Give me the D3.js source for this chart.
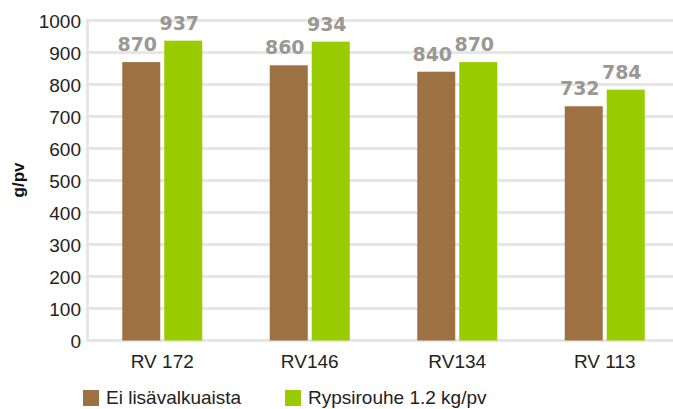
<!DOCTYPE html>
<head>
<meta charset="utf-8">
<script src="https://cdn.jsdelivr.net/npm/d3@7"></script>
<style>
  body { margin: 0; background: #fff; }
  svg { display: block; }
  .tick-label { font-family: "Liberation Sans", Arial, sans-serif; font-size: 19px; fill: #222; }
  .val { font-family: "DejaVu Sans", sans-serif; font-weight: bold; font-size: 19px; fill: #9b9893; }
</style>
</head>
<body>
<script>
var categories = ["RV 172", "RV146", "RV134", "RV 113"];
var seriesNames = ["Ei lisävalkuaista", "Rypsirouhe 1.2 kg/pv"];
var noProtein = [870, 860, 840, 732];
var rapeseed = [937, 934, 870, 784];
var yTicks = [0, 100, 200, 300, 400, 500, 600, 700, 800, 900, 1000];
var colors = ["#9e7143", "#99cc00"];

var width = 673, height = 409;
var svg = d3.select("body").append("svg")
    .attr("width", width).attr("height", height);

var x = d3.scaleBand().domain(categories).range([88.5, 678.5]);
var y = d3.scaleLinear().domain([0, 1000]).range([340.5, 20.5]);
var barW = 38, gap = 4;

// gridlines
svg.selectAll(".grid").data(yTicks).enter().append("line")
    .attr("x1", 86).attr("x2", width)
    .attr("y1", function (d) { return y(d); })
    .attr("y2", function (d) { return y(d); })
    .attr("stroke", "#e6e6e6").attr("stroke-width", 3);
svg.append("line")
    .attr("x1", 87.5).attr("x2", 87.5)
    .attr("y1", y(1000) - 1.5).attr("y2", y(0) + 1.5)
    .attr("stroke", "#e6e6e6").attr("stroke-width", 3);

// y tick labels
svg.selectAll(".ylab").data(yTicks).enter().append("text")
    .attr("class", "tick-label")
    .attr("x", 81).attr("y", function (d) { return y(d) + 7; })
    .attr("text-anchor", "end")
    .text(function (d) { return d; });

svg.append("text")
    .attr("transform", "translate(24,180) rotate(-90)")
    .attr("text-anchor", "middle")
    .style("font-family", "'Liberation Sans', Arial, sans-serif")
    .style("font-weight", "bold").style("font-size", "17px").style("fill", "#111")
    .text("g/pv");

var series = [noProtein, rapeseed];
series.forEach(function (vals, si) {
    var off = si === 0 ? -gap / 2 - barW : gap / 2;
    svg.selectAll(".bar" + si).data(vals).enter().append("rect")
        .attr("x", function (d, i) { return x(categories[i]) + x.bandwidth() / 2 + off; })
        .attr("y", function (d) { return y(d); })
        .attr("width", barW)
        .attr("height", function (d) { return y(0) - y(d); })
        .attr("fill", colors[si]);
    svg.selectAll(".val" + si).data(vals).enter().append("text")
        .attr("class", "val")
        .attr("x", function (d, i) { return x(categories[i]) + x.bandwidth() / 2 + off + barW / 2 - 4; })
        .attr("y", function (d) { return y(d) - 11; })
        .attr("text-anchor", "middle")
        .text(function (d) { return d; });
});

// category labels
svg.selectAll(".cat").data(categories).enter().append("text")
    .attr("class", "tick-label")
    .attr("x", function (d) { return x(d) + x.bandwidth() / 2; })
    .attr("y", 368)
    .attr("text-anchor", "middle")
    .text(function (d) { return d; });

// legend
var legendX = [83, 285];
seriesNames.forEach(function (name, i) {
    svg.append("rect").attr("x", legendX[i]).attr("y", 390)
        .attr("width", 16).attr("height", 16).attr("fill", colors[i]);
    svg.append("text").attr("class", "tick-label")
        .attr("x", legendX[i] + 23).attr("y", 404)
        .text(name);
});
</script>
</body>
